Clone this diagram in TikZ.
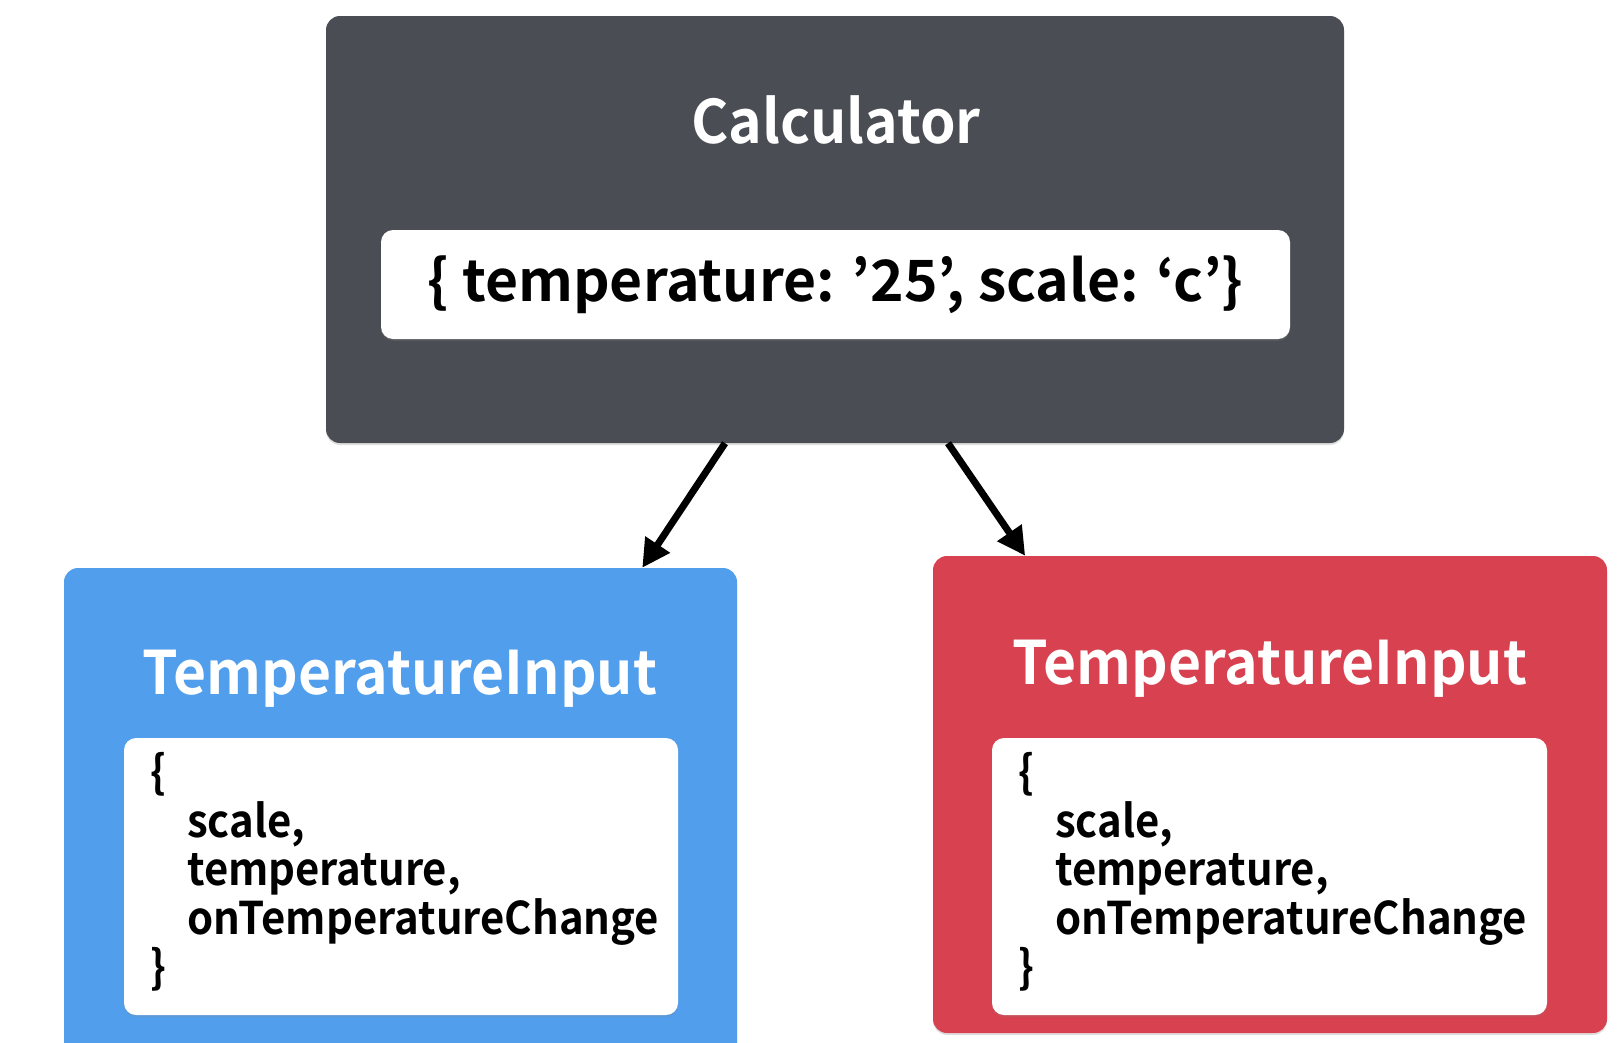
\documentclass[tikz,border=0pt]{standalone}
\usepackage{fontspec}
\setmainfont{Noto Sans CJK KR}[BoldFont={Noto Sans CJK KR Bold}]
\newfontfamily\titlefont{Noto Sans CJK KR Bold}[FakeStretch=0.95]
\newfontfamily\codefont{Noto Sans CJK KR Bold}[FakeStretch=0.93]
\usepackage{xcolor}
\usetikzlibrary{arrows.meta,positioning,calc,shadows}
\definecolor{calcgray}{HTML}{4A4D54}
\definecolor{inblue}{HTML}{519EEC}
\definecolor{inred}{HTML}{D84250}

\begin{document}
\begin{tikzpicture}[
    x=1pt, y=-1pt,
    >={Triangle[length=28pt,width=28pt]},
    panel/.style={rounded corners=14pt, inner sep=0pt,
      drop shadow={opacity=0.25, shadow xshift=0pt, shadow yshift=-2pt}},
    card/.style={fill=white, rounded corners=12pt, inner sep=0pt,
      drop shadow={opacity=0.2, shadow xshift=0pt, shadow yshift=-2pt}},
    title/.style={text=white, anchor=base, inner sep=0pt, font=\titlefont\fontsize{60}{66}\selectfont},
    code/.style={anchor=north west, inner sep=0pt, align=left, font=\codefont\fontsize{45}{48.7}\selectfont},
  ]
  \useasboundingbox[fill=white] (0,0) rectangle (1624,1042);
  \clip (0,0) rectangle (1624,1042);

  \node[panel, fill=calcgray, minimum width=1018pt, minimum height=427pt] (calc) at (835,229.5) {};
  \node[title] (calctitle) at (836,143) {Calculator};
  \node[card, minimum width=909pt, minimum height=109pt] (calcstate) at (835.5,284.5) {};
  \node[font=\bfseries\fontsize{57}{60}\selectfont, inner sep=0pt] (statetext) at (calcstate) {\{ temperature: ’25’, scale: ‘c’\}};

  \node[panel, fill=inblue, minimum width=673pt, minimum height=492pt] (leftin) at (400.5,814) {};
  \node[title] (lefttitle) at (400,694) {TemperatureInput};
  \node[card, minimum width=554pt, minimum height=277pt] (leftcard) at (401,876.5) {};
  \node[code] (leftprops) at (150,752)
    {\{\\\hspace*{37pt}scale,\\\hspace*{37pt}temperature,\\\hspace*{37pt}onTemperatureChange\\\}};

  \node[panel, fill=inred, minimum width=674pt, minimum height=477pt] (rightin) at (1270,794.5) {};
  \node[title] (righttitle) at (1270,684) {TemperatureInput};
  \node[card, minimum width=555pt, minimum height=277pt] (rightcard) at (1269.5,876.5) {};
  \node[code] (rightprops) at (1018,752)
    {\{\\\hspace*{37pt}scale,\\\hspace*{37pt}temperature,\\\hspace*{37pt}onTemperatureChange\\\}};

  \coordinate (l_from) at ($(calc.south west)!0.392!(calc.south east)$);
  \coordinate (l_to) at ($(leftin.north west)!0.859!(leftin.north east)$);
  \coordinate (r_from) at ($(calc.south west)!0.611!(calc.south east)$);
  \coordinate (r_to) at ($(rightin.north west)!0.137!(rightin.north east)$);
  \draw[->, line width=7pt] (l_from) -- (l_to);
  \draw[->, line width=7pt] (r_from) -- (r_to);
\end{tikzpicture}
\end{document}
